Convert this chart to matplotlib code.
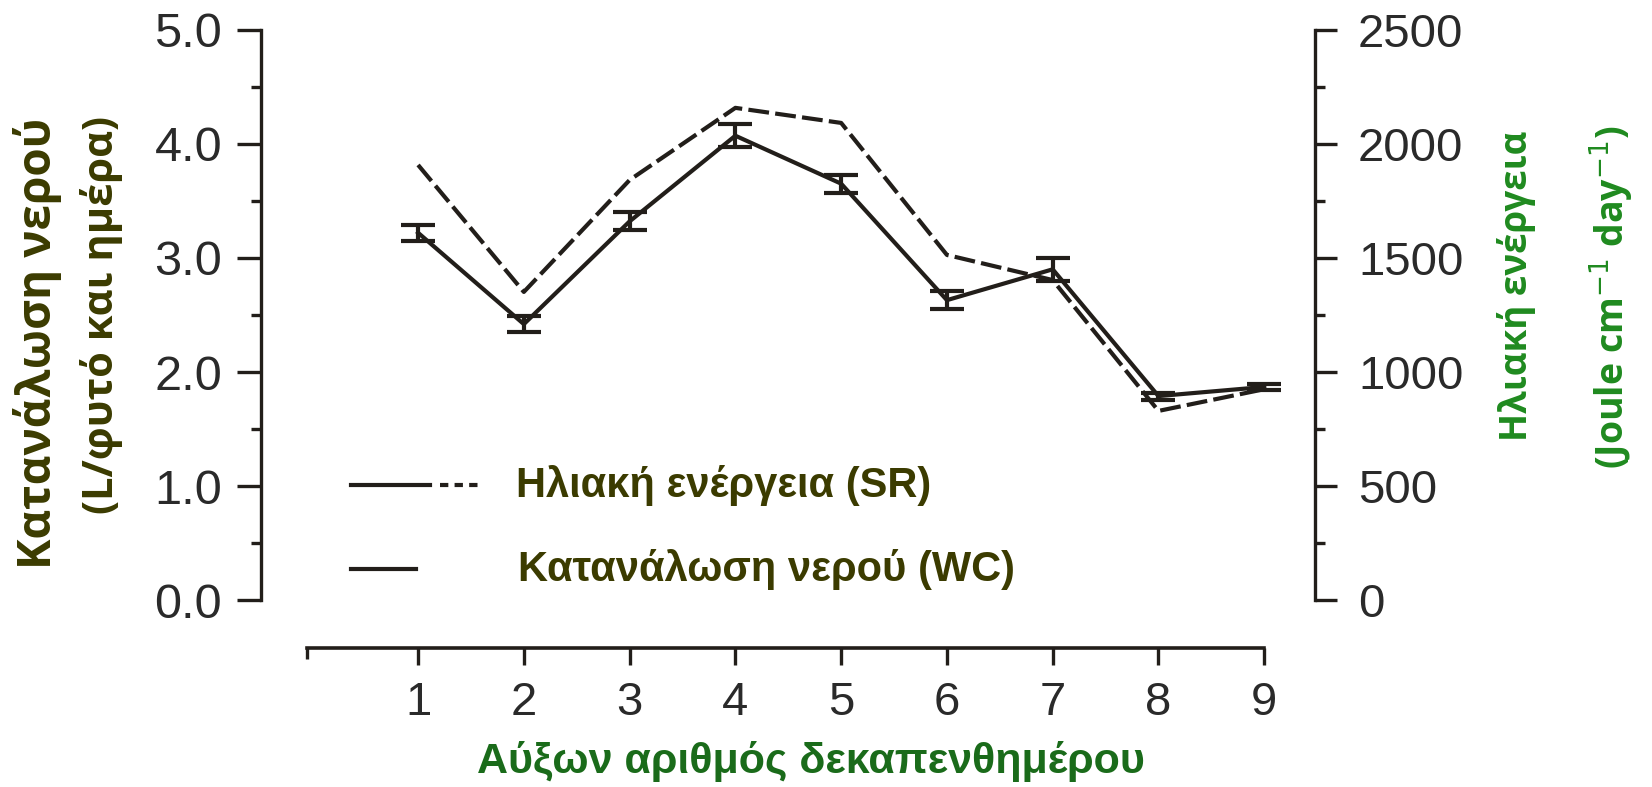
import matplotlib
matplotlib.use("Agg")
import matplotlib.pyplot as plt
from matplotlib.ticker import MultipleLocator, FixedLocator

# Data
periods = [1, 2, 3, 4, 5, 6, 7, 8, 9]
wc = [3.22, 2.42, 3.32, 4.07, 3.65, 2.63, 2.90, 1.79, 1.87]      # L/plant/day
wc_err = [0.07, 0.07, 0.08, 0.10, 0.08, 0.08, 0.10, 0.03, 0.03]
sr = [1907, 1351, 1841, 2157, 2091, 1513, 1403, 830, 925]        # Joule cm-1 day-1

left_ticks = [0.0, 1.0, 2.0, 3.0, 4.0, 5.0]
right_ticks = [0, 500, 1000, 1500, 2000, 2500]

ink = "#221e1a"
olive = "#3b3b00"
green = "#1f8a1f"
dkgreen = "#1a6b1a"
tick_font = ["Liberation Sans", "DejaVu Sans"]
narrow = ["Liberation Sans Narrow", "Liberation Sans", "DejaVu Sans"]
label_font = ["Open Sans", "DejaVu Sans"]
lw = 3.0

fig = plt.figure(figsize=(16.52, 7.87), dpi=100)
ax = fig.add_axes([0.158, 0.237, 0.638, 0.7255])
ax2 = ax.twinx()

# water consumption (solid with error bars)
ax.errorbar(periods, wc, yerr=wc_err, color=ink, lw=lw, capsize=12,
            capthick=lw, elinewidth=lw, zorder=3)
# solar radiation (dashed), right axis
ax2.plot(periods, sr, color=ink, lw=lw, dashes=(5, 1.5), zorder=3)

ax.set_xlim(-0.485, 9.48)
ax.set_ylim(0, 5)
ax2.set_ylim(0, 2500)

for a in (ax, ax2):
    a.spines["top"].set_visible(False)
    a.patch.set_visible(False)
ax.spines["right"].set_visible(False)
ax2.spines["left"].set_visible(False)
ax2.spines["bottom"].set_visible(False)
ax.spines["left"].set_linewidth(2.4)
ax2.spines["right"].set_linewidth(2.4)
ax.spines["left"].set_color(ink)
ax2.spines["right"].set_color(ink)

# detached x axis
ax.spines["bottom"].set_position(("outward", 34))
ax.spines["bottom"].set_bounds(-0.05, 9)
ax.spines["bottom"].set_linewidth(2.6)
ax.spines["bottom"].set_color(ink)

ax.set_yticks(left_ticks)
ax.set_yticklabels([f"{v:.1f}" for v in left_ticks])
ax.yaxis.set_minor_locator(MultipleLocator(0.5))
ax2.set_yticks(right_ticks)
ax2.set_yticklabels([str(v) for v in right_ticks])
ax2.yaxis.set_minor_locator(MultipleLocator(250))
ax.set_xticks(periods)
ax.set_xticklabels([str(p) for p in periods])
ax.xaxis.set_minor_locator(FixedLocator([-0.05]))

ax.tick_params(axis="y", which="major", length=17, width=2.4, color=ink,
               pad=11, labelsize=35, labelcolor="#2a2a2a")
ax.tick_params(axis="y", which="minor", length=7, width=2.4, color=ink)
ax2.tick_params(axis="y", which="major", length=16, width=2.4, color=ink,
                pad=15, labelsize=34, labelcolor="#2a2a2a")
ax2.tick_params(axis="y", which="minor", length=7, width=2.4, color=ink)
ax.tick_params(axis="x", which="major", length=12, width=2.4, color=ink,
               pad=12, labelsize=34, labelcolor="#2a2a2a")
ax.tick_params(axis="x", which="minor", length=8, width=2.4, color=ink)
for t in ax.get_yticklabels() + ax2.get_yticklabels() + ax.get_xticklabels():
    t.set_family(tick_font)

# legend drawn inside the axes
ax.plot([0.085, 0.160], [0.202, 0.202], transform=ax.transAxes, color=ink, lw=lw)
ax.plot([0.170, 0.206], [0.202, 0.202], transform=ax.transAxes, color=ink,
        lw=lw, dashes=(2.0, 1.5))
ax.plot([0.085, 0.147], [0.055, 0.055], transform=ax.transAxes, color=ink, lw=lw)
ax.text(0.242, 0.202, "Ηλιακή ενέργεια (SR)", transform=ax.transAxes,
        ha="left", va="center", fontsize=30, fontweight="bold", color=olive,
        family=narrow)
ax.text(0.244, 0.055, "Κατανάλωση νερού (WC)", transform=ax.transAxes,
        ha="left", va="center", fontsize=30, fontweight="bold", color=olive,
        family=narrow)

# axis titles
fig.text(38 / 1652, 1 - 118 / 787, "Κατανάλωση νερού", rotation=90,
         ha="center", va="top", fontsize=33, fontweight="bold", color=olive,
         family=label_font)
fig.text(102 / 1652, 1 - 116 / 787, "(L/φυτό και ημέρα)", rotation=90,
         ha="center", va="top", fontsize=30, fontweight="bold", color=olive,
         family=label_font)
fig.text(1517 / 1652, 1 - 131 / 787, "Ηλιακή ενέργεια", rotation=90,
         ha="center", va="top", fontsize=26.5, fontweight="bold", color=green,
         family=label_font)
fig.text(1612 / 1652, 1 - 126 / 787, "(Joule cm$^{-1}$ day$^{-1}$)", rotation=90,
         ha="center", va="top", fontsize=27, fontweight="bold", color=green,
         family=label_font)
fig.text(811 / 1652, 1 - 761 / 787, "Αύξων αριθμός δεκαπενθημέρου",
         ha="center", va="center", fontsize=31, fontweight="bold", color=dkgreen,
         family=narrow)

fig.savefig("out.png", dpi=100)
